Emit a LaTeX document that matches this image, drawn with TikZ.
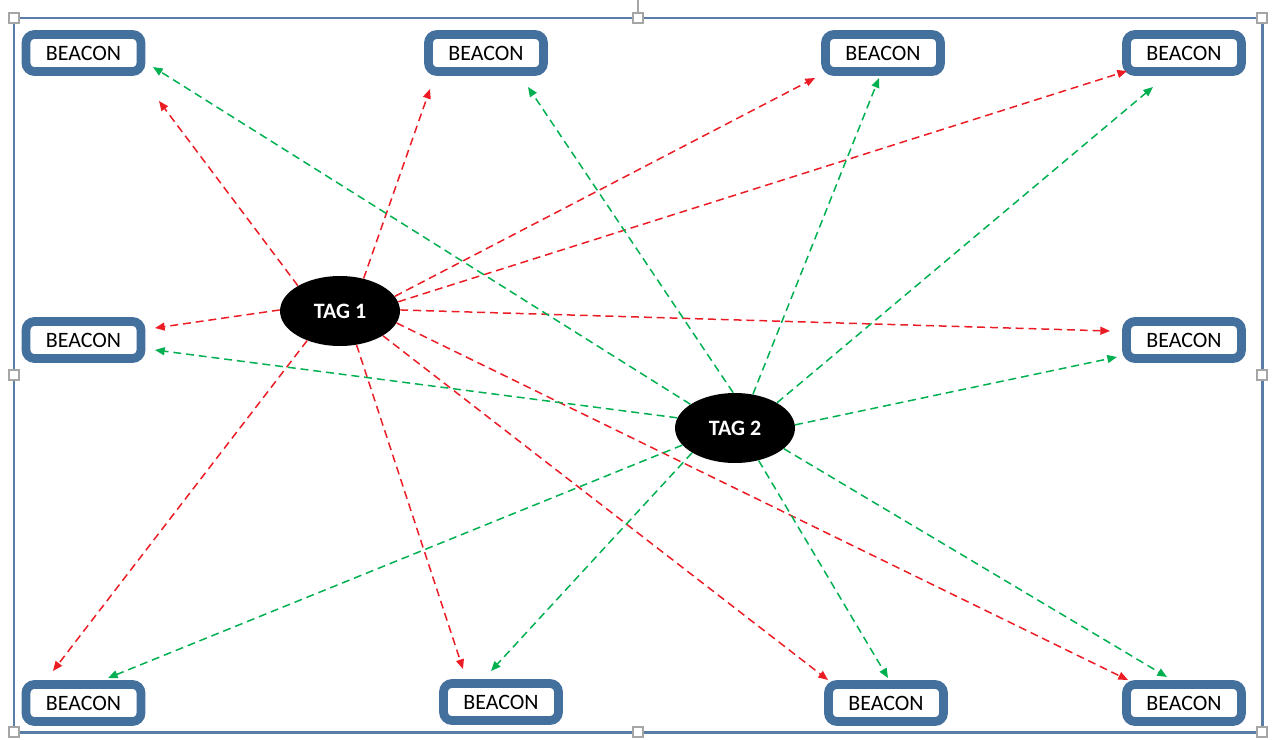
\documentclass[tikz,border=0pt]{standalone}
\usepackage{fontspec}
\setmainfont{Carlito}
\usepackage{xcolor}
\usepackage{tikz}
\usetikzlibrary{arrows.meta,shapes.geometric}
\definecolor{sigRed}{HTML}{EC1C24}
\definecolor{sigGreen}{HTML}{00B050}
\definecolor{beaconBlue}{HTML}{43709D}
\definecolor{frameBlue}{HTML}{5A7DA6}
\definecolor{handleGray}{HTML}{A6A6A6}

\begin{document}
\begin{tikzpicture}[x=0.02cm, y=-0.02cm, font=\fontsize{12.5}{15}\selectfont,
  beacon/.style={rectangle,draw=beaconBlue,line width=5pt,rounded corners=4.8pt,fill=white,
    minimum width=2.3cm,minimum height=0.74cm,inner sep=0pt},
  tag/.style={ellipse,fill=black,text=white,font=\fontsize{12.5}{15}\selectfont\bfseries,
    minimum width=2.4cm,minimum height=1.4cm,inner sep=0pt},
  handle/.style={rectangle,draw=handleGray,fill=white,line width=0.6pt,minimum size=0.2cm,inner sep=0pt},
  redarr/.style={sigRed,line width=0.85pt,dash pattern=on 4.5pt off 2.8pt,-{Triangle[length=5.5pt,width=4.5pt]}},
  greenarr/.style={sigGreen,line width=0.85pt,dash pattern=on 4.5pt off 2.8pt,-{Triangle[length=5.5pt,width=4.5pt]}}]
  \useasboundingbox (0,0) rectangle (1278,740);
% --- frame with selection handles ---
  \draw[frameBlue,line width=1.7pt] (14,18) rectangle (1262,732);
  \coordinate (rot) at (638,0);
  \node[handle] (hT) at (638,18) {};
  \draw[handleGray,line width=0.6pt] (hT.north) -- (rot);
  \node[handle] (hTL) at (14,18) {};
  \node[handle] (hTR) at (1262,18) {};
  \node[handle] (hL) at (14,375) {};
  \node[handle] (hR) at (1262,375) {};
  \node[handle] (hBL) at (14,732) {};
  \node[handle] (hB) at (638,732) {};
  \node[handle] (hBR) at (1262,732) {};
% --- beacons ---
  \node[beacon] (b1) at (83.5,53) {BEACON};
  \node[beacon] (b2) at (486,53) {BEACON};
  \node[beacon] (b3) at (883,53) {BEACON};
  \node[beacon] (b4) at (1184,53) {BEACON};
  \node[beacon] (b5) at (83.5,340) {BEACON};
  \node[beacon] (b6) at (1184,340) {BEACON};
  \node[beacon] (b7) at (83.5,703) {BEACON};
  \node[beacon] (b8) at (501,702) {BEACON};
  \node[beacon] (b9) at (886,703) {BEACON};
  \node[beacon] (b10) at (1184,703) {BEACON};
% --- tags ---
  \node[tag] (t1) at (340,311) {TAG 1};
  \node[tag] (t2) at (735,428) {TAG 2};
% --- TAG 1 to every beacon (red) ---
  \draw[redarr] (t1.149) -- ([shift={(75.5,48)}]b1.center);
  \draw[redarr] (t1.54) -- ([shift={(-56,36)}]b2.center);
  \draw[redarr] (t1.15) -- ([shift={(-68,25)}]b3.center);
  \draw[redarr] (t1.9) -- ([shift={(-57,18)}]b4.center);
  \draw[redarr] (t1.179) -- ([shift={(71.5,-12)}]b5.center);
  \draw[redarr] (t1.1) -- ([shift={(-74,-9)}]b6.center);
  \draw[redarr] (t1.222) -- ([shift={(-30.5,-32)}]b7.center);
  \draw[redarr] (t1.296) -- ([shift={(-38,-33)}]b8.center);
  \draw[redarr] (t1.330) -- ([shift={(-58,-23)}]b9.center);
  \draw[redarr] (t1.348) -- ([shift={(-56,-23)}]b10.center);
% --- TAG 2 to every beacon (green) ---
  \draw[greenarr] (t2.152) -- ([shift={(69.5,14)}]b1.center);
  \draw[greenarr] (t2.93) -- ([shift={(42,34)}]b2.center);
  \draw[greenarr] (t2.62) -- ([shift={(-4,25)}]b3.center);
  \draw[greenarr] (t2.31) -- ([shift={(-31,34)}]b4.center);
  \draw[greenarr] (t2.170) -- ([shift={(71.5,10)}]b5.center);
  \draw[greenarr] (t2.3) -- ([shift={(-67,17)}]b6.center);
  \draw[greenarr] (t2.198) -- ([shift={(24.5,-25)}]b7.center);
  \draw[greenarr] (t2.210) -- ([shift={(-10,-31)}]b8.center);
  \draw[greenarr] (t2.306) -- ([shift={(2,-25)}]b9.center);
  \draw[greenarr] (t2.337) -- ([shift={(-17,-26)}]b10.center);
\end{tikzpicture}
\end{document}
